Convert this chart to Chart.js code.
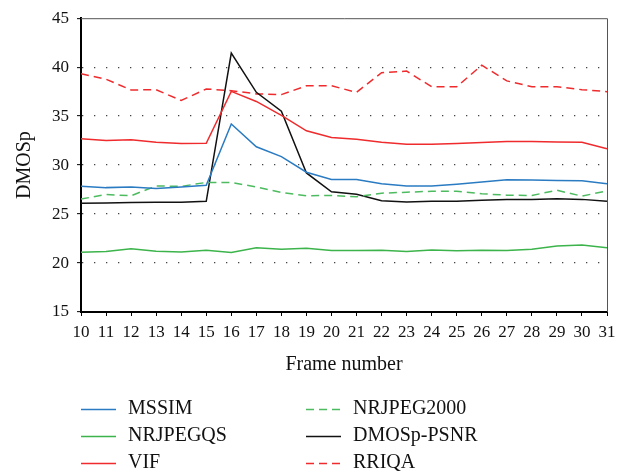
<!DOCTYPE html>
<html>
<head>
<meta charset="utf-8">
<script src="https://cdn.jsdelivr.net/npm/chart.js@4/dist/chart.umd.min.js"></script>
<style>
html,body{margin:0;padding:0;background:#fff;}
canvas{display:block;}
</style>
</head>
<body>
<canvas id="c" width="624" height="473"></canvas>
<script>
const frames = ['10','11','12','13','14','15','16','17','18','19','20','21','22','23','24','25','26','27','28','29','30','31'];
const mssim = [27.83,27.7,27.77,27.6,27.77,27.93,34.2,31.87,30.87,29.27,28.53,28.53,28.1,27.87,27.87,28.05,28.27,28.5,28.47,28.43,28.4,28.1];
const nrjpegqs = [21.1,21.17,21.47,21.2,21.13,21.3,21.07,21.57,21.4,21.5,21.27,21.27,21.3,21.17,21.33,21.25,21.3,21.27,21.4,21.73,21.83,21.57];
const vif = [32.7,32.5,32.6,32.33,32.2,32.23,37.53,36.5,35.07,33.5,32.83,32.63,32.33,32.13,32.13,32.2,32.3,32.4,32.4,32.37,32.33,31.67];
const nrjpeg2000 = [26.53,27.0,26.87,27.87,27.83,28.23,28.23,27.77,27.2,26.87,26.9,26.77,27.13,27.23,27.33,27.33,27.07,26.93,26.9,27.43,26.83,27.37];
const dmosPsnr = [26.1,26.13,26.17,26.2,26.2,26.3,41.43,37.43,35.5,29.2,27.27,27.03,26.37,26.23,26.3,26.3,26.4,26.5,26.5,26.57,26.5,26.3];
const rriqa = [39.33,38.77,37.67,37.7,36.6,37.77,37.6,37.27,37.2,38.1,38.1,37.43,39.43,39.6,38.0,38.0,40.2,38.6,38.0,38.0,37.7,37.5];
const yTicks = [15,20,25,30,35,40,45];

const FONT = 'Liberation Serif';
const DASH = [8,5];

const datasets = [
  {label:'MSSIM', data:mssim, borderColor:'#2a7bc2', borderDash:[]},
  {label:'NRJPEGQS', data:nrjpegqs, borderColor:'#3cb44b', borderDash:[]},
  {label:'VIF', data:vif, borderColor:'#ef2b2d', borderDash:[]},
  {label:'NRJPEG2000', data:nrjpeg2000, borderColor:'#4dbb5f', borderDash:DASH},
  {label:'DMOSp-PSNR', data:dmosPsnr, borderColor:'#111111', borderDash:[]},
  {label:'RRIQA', data:rriqa, borderColor:'#ef2b2d', borderDash:DASH}
].map(d => Object.assign(d, {borderWidth:1.5, pointRadius:0, tension:0, fill:false}));

const framePlugin = {
  id:'frame',
  beforeDatasetsDraw(chart){
    const {ctx, chartArea:a} = chart;
    ctx.save();
    ctx.strokeStyle = '#555';
    ctx.lineWidth = 1;
    ctx.beginPath();
    ctx.moveTo(a.left, a.top + 0.5);
    ctx.lineTo(a.right + 0.5, a.top + 0.5);
    ctx.lineTo(a.right + 0.5, a.bottom);
    ctx.stroke();
    ctx.restore();
  }
};

const legendPlugin = {
  id:'customLegend',
  afterDraw(chart){
    const {ctx} = chart;
    const cols = [{lx:81, tx:128}, {lx:306, tx:353}];
    const rows = [409, 436, 463];
    ctx.save();
    ctx.font = '20px "' + FONT + '"';
    ctx.textBaseline = 'middle';
    ctx.fillStyle = '#111';
    chart.data.datasets.forEach((ds, i) => {
      const c = cols[Math.floor(i / 3)];
      const y = rows[i % 3];
      ctx.save();
      ctx.strokeStyle = ds.borderColor;
      ctx.lineWidth = 1.5;
      ctx.setLineDash(ds.borderDash || []);
      ctx.beginPath();
      ctx.moveTo(c.lx, y + 0.5);
      ctx.lineTo(c.lx + 35, y + 0.5);
      ctx.stroke();
      ctx.restore();
      ctx.fillText(ds.label, c.tx, y);
    });
    ctx.restore();
  }
};

new Chart(document.getElementById('c'), {
  type:'line',
  data:{labels:frames, datasets},
  options:{
    responsive:false,
    animation:false,
    layout:{padding:{left:0, top:12, right:17, bottom:92}},
    plugins:{legend:{display:false}, tooltip:{enabled:false}},
    scales:{
      x:{
        type:'category',
        offset:false,
        grid:{drawOnChartArea:false, drawTicks:true, tickLength:4, tickColor:'#000', tickWidth:1},
        border:{display:true, color:'#000', width:2},
        ticks:{color:'#111', font:{family:FONT, size:17}, padding:6, maxRotation:0, autoSkip:false},
        title:{display:true, text:'Frame number', color:'#111', font:{family:FONT, size:20}, padding:{top:4, bottom:4}},
        afterFit(s){ s.height = 69; }
      },
      y:{
        min:15, max:45,
        afterBuildTicks(s){ s.ticks = yTicks.map(v => ({value:v})); },
        grid:{
          drawOnChartArea:true, drawTicks:true, tickLength:4, tickColor:'#000', tickWidth:1, tickBorderDash:[],
          lineWidth:1.3,
          color:(c) => (c.tick && (c.tick.value === 15 || c.tick.value === 45)) ? 'rgba(0,0,0,0)' : '#444'
        },
        border:{display:true, color:'#000', width:2, dash:[1.3,10.7]},
        ticks:{color:'#111', font:{family:FONT, size:17}, padding:8},
        title:{display:true, text:'DMOSp', color:'#111', font:{family:FONT, size:20}, padding:{top:13, bottom:4}},
        afterFit(s){ s.width = 81; }
      }
    }
  },
  plugins:[framePlugin, legendPlugin]
});
</script>
</body>
</html>
